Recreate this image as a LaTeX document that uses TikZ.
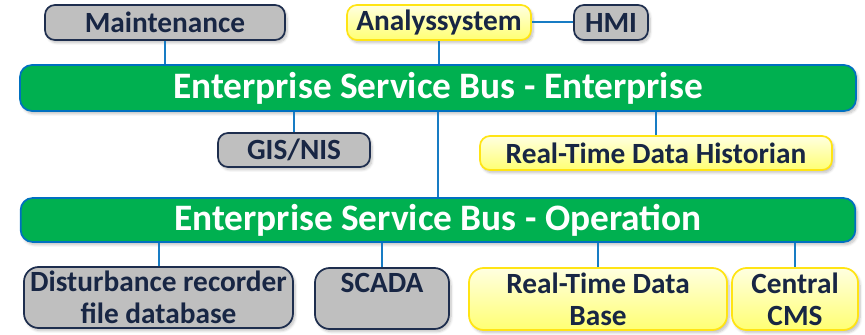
\documentclass[tikz,border=0pt]{standalone}
\usepackage{fontspec}
\setmainfont{Carlito}
\usetikzlibrary{shadows.blur}

\definecolor{busgreen}{RGB}{0,176,80}
\definecolor{busblue}{RGB}{0,112,192}
\definecolor{linkblue}{RGB}{24,124,196}
\definecolor{boxgray}{RGB}{191,191,191}
\definecolor{boxnavy}{RGB}{30,46,78}
\definecolor{textnavy}{RGB}{24,38,68}
\definecolor{boxyellow}{RGB}{255,228,20}

\tikzset{
  softshadow/.style={blur shadow={shadow xshift=1.5pt, shadow yshift=-2pt, shadow blur steps=6, shadow opacity=25}},
  bus/.style={draw=busblue, line width=1.3pt, fill=busgreen, rounded corners=9pt, inner sep=0pt,
    text=white, font=\fontsize{28}{32}\selectfont\bfseries, softshadow},
  graybox/.style={draw=boxnavy, line width=1.3pt, fill=boxgray, rounded corners=7.5pt, inner sep=0pt,
    text=textnavy, font=\fontsize{22}{24}\selectfont\bfseries, align=center, softshadow},
  yellowbox/.style={graybox, draw=boxyellow, top color=yellow!12, bottom color=yellow!55},
  lowbox/.style={rounded corners=11pt, font=\fontsize{22}{24}\selectfont\bfseries},
  link/.style={draw=linkblue, line width=1.5pt}
}

\begin{document}
\begin{tikzpicture}[x=0.75pt,y=0.75pt,yscale=-1,xscale=1]
\useasboundingbox (0,0) rectangle (865,335);

%Top row
\node [graybox, minimum width=180pt, minimum height=26.25pt] (maint) at (165,22.5) {Maintenance};
\node [yellowbox, minimum width=138pt, minimum height=26.25pt] (analys) at (439,22.5) {Analyssystem};
\node [graybox, minimum width=55.5pt, minimum height=26.25pt] (hmi) at (611,22.5) {HMI};

%Buses
\node [bus, minimum width=627pt, minimum height=34.5pt] (esbent) at (438,88) {Enterprise Service Bus - Enterprise};
\node [bus, minimum width=626pt, minimum height=33pt] (esbop) at (438,220) {Enterprise Service Bus - Operation};

%Middle row
\node [graybox, minimum width=114pt, minimum height=25.5pt] (gis) at (294,150) {GIS/NIS};
\node [yellowbox, minimum width=264pt, minimum height=25.5pt] (hist) at (656,153) {Real-Time Data Historian};

%Bottom row
\node [graybox, lowbox, minimum width=201.75pt, minimum height=45.75pt] (dfr) at (158.5,297.5) {Disturbance recorder\\file database};
\node [graybox, lowbox, minimum width=100.5pt, minimum height=45.75pt] (scada) at (382,298.5) {SCADA\\\mbox{}};
\node [yellowbox, lowbox, minimum width=193.5pt, minimum height=46.5pt] (rtdb) at (598,299) {Real-Time Data\\Base};
\node [yellowbox, lowbox, minimum width=94.5pt, minimum height=46.5pt] (cms) at (795,299) {Central\\CMS};

%Links
\draw [link] (maint.south) -- (maint.south |- esbent.north);
\draw [link] (analys.south) -- (analys.south |- esbent.north);
\draw [link] (analys.east) -- (hmi.west);
\draw [link] (esbent.south) -- (esbop.north);
\draw [link] (gis.north) -- (gis.north |- esbent.south);
\draw [link] (hist.north) -- (hist.north |- esbent.south);
\draw [link] (dfr.north) -- (dfr.north |- esbop.south);
\draw [link] (scada.north) -- (scada.north |- esbop.south);
\draw [link] (rtdb.north) -- (rtdb.north |- esbop.south);
\draw [link] (cms.north) -- (cms.north |- esbop.south);

\end{tikzpicture}
\end{document}
